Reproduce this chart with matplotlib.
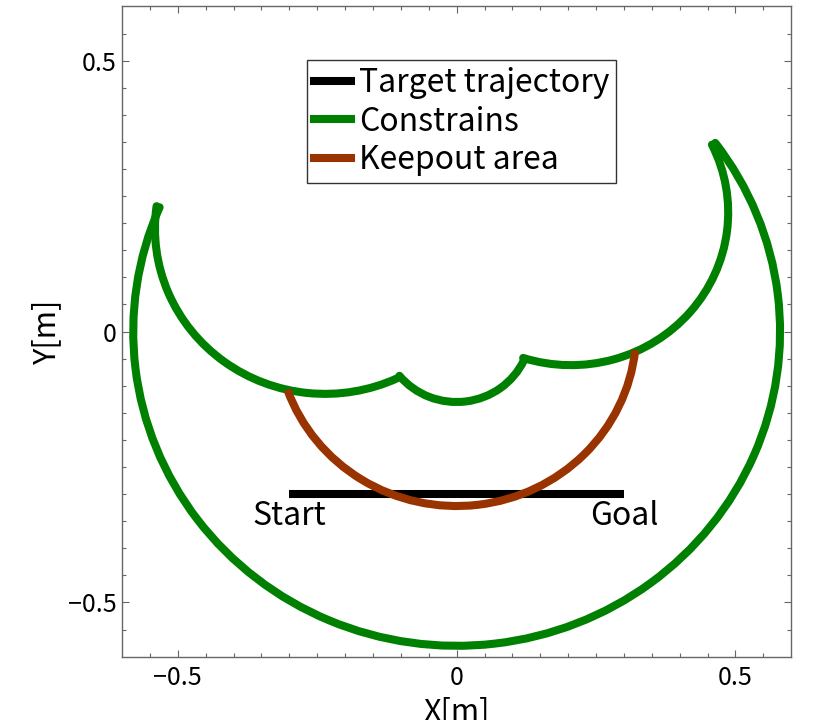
import numpy as np
import matplotlib
matplotlib.use('Agg')
import matplotlib.pyplot as plt
from matplotlib.patches import Arc
from matplotlib.lines import Line2D

plt.rcParams['font.family'] = ['Noto Sans CJK JP', 'DejaVu Sans']

# target trajectory (straight line, start -> goal)
traj_x = [-0.3, 0.3]
traj_y = [-0.3, -0.3]
label_pos = [(-0.3, 'Start'), (0.3, 'Goal')]

# constraint boundary, made of circular arcs
# (center x, center y, radius, start angle, end angle) in degrees
con_cx = [0.0, -0.236, 0.0, 0.205]
con_cy = [0.0, 0.190, 0.003, 0.220]
con_r = [0.580, 0.305, 0.133, 0.282]
con_t1 = [156.7, 172.2, 219.5, 252.3]
con_t2 = [36.9, 295.0, 335.0, 26.3]

# keepout area arc
keep_c = (0.0, 0.0)
keep_r = 0.322
keep_t1, keep_t2 = 199.5, 353.9

xticks = [-0.5, 0, 0.5]
xticklabels = ['\u22120.5', '0', '0.5']
yticks = [-0.5, 0, 0.5]
yticklabels = ['\u22120.5', '0', '0.5']

green = '#008000'
brown = '#993300'
lw = 5.8

fig = plt.figure(figsize=(8.14, 7.2), dpi=100)
ax = fig.add_axes([0.150, 0.088, 0.822, 0.903])

ax.plot(traj_x, traj_y, color='black', lw=lw, solid_capstyle='butt', zorder=2)

for cx, cy, r, t1, t2 in zip(con_cx, con_cy, con_r, con_t1, con_t2):
    ax.add_patch(Arc((cx, cy), 2 * r, 2 * r, theta1=t1, theta2=t2,
                     color=green, lw=lw, capstyle='round', zorder=3))

ax.add_patch(Arc(keep_c, 2 * keep_r, 2 * keep_r, theta1=keep_t1, theta2=keep_t2,
                 color=brown, lw=lw, capstyle='butt', zorder=4))

for x, s in label_pos:
    ax.text(x, -0.310, s, ha='center', va='top', fontsize=23)

ax.set_xlim(-0.6, 0.6)
ax.set_ylim(-0.6, 0.6)
ax.set_xticks(xticks)
ax.set_xticklabels(xticklabels)
ax.set_yticks(yticks)
ax.set_yticklabels(yticklabels)
ax.set_xticks(np.arange(-0.55, 0.6, 0.05), minor=True)
ax.set_yticks(np.arange(-0.55, 0.6, 0.05), minor=True)

ax.tick_params(which='both', direction='in', top=True, right=True,
               color='#666666', width=0.8, labelsize=18)
ax.tick_params(which='major', length=5)
ax.tick_params(which='minor', length=3)
ax.tick_params(axis='x', pad=6)
ax.tick_params(axis='y', pad=4)
for sp in ax.spines.values():
    sp.set_color('#666666')
    sp.set_linewidth(1.0)

ax.set_xlabel('X[m]', fontsize=22, labelpad=4)
ax.set_ylabel('Y[m]', fontsize=22, labelpad=4)

handles = [Line2D([], [], color='black', lw=lw),
           Line2D([], [], color=green, lw=lw),
           Line2D([], [], color=brown, lw=lw)]
names = ['Target trajectory', 'Constrains', 'Keepout area']
leg = ax.legend(handles, names, loc='upper left', bbox_to_anchor=(0.276, 0.918),
                borderaxespad=0, fontsize=23, fancybox=False, framealpha=1,
                edgecolor='#333333', handlelength=1.16, handletextpad=0.25,
                borderpad=0.22, labelspacing=0.21)
leg.get_frame().set_linewidth(1.0)

fig.savefig('out.png', dpi=100)
